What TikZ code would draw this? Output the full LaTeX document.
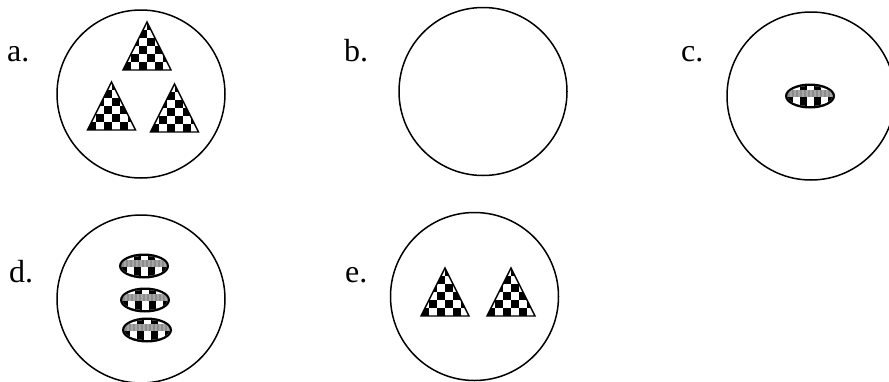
\documentclass[tikz,border=0pt]{standalone}
\usepackage{fontspec}
\setmainfont{Liberation Serif}
\begin{document}
\begin{tikzpicture}[x=1pt,y=1pt,
  ring/.style={circle, draw, line width=1.5pt, minimum size=168pt, inner sep=0pt},
  lab/.style={anchor=base west, inner sep=0pt, font=\fontsize{32}{36}\selectfont},
  ctri/.pic={
    \begin{scope}
      \clip (-24,0) -- (24,0) -- (0,48) -- cycle;
      \fill[white] (-24,0) rectangle (24,48);
      \foreach \i in {0,...,5}{\foreach \j in {0,...,5}{
        \pgfmathtruncatemacro\k{mod(\i+\j,2)}
        \ifnum\k=0 \fill (-24+8*\i,8*\j) rectangle ++(8,8);\fi}}
    \end{scope}
    \draw[line width=1.4pt] (-24,0) -- (24,0) -- (0,48) -- cycle;
  },
  cell/.pic={
    \fill (0,0) ellipse [x radius=25, y radius=12.5];
    \begin{scope}
      \clip (0,0) ellipse [x radius=22.5, y radius=10];
      \fill[white] (-25,-13) rectangle (25,13);
      \foreach \s in {-24.5,-10.5,3.5,17.5} \fill (\s,-13) rectangle ++(7,26);
      \fill[gray!70] (-25,-1) rectangle (25,6);
      \foreach \u in {-22,-18,...,22}{\fill[black!45] (\u,-1) rectangle ++(1.5,7);}
    \end{scope}
  }]
\useasboundingbox (0,0) rectangle (889,-381);
\clip (0,0) rectangle (889,-381);

% labels
\node[lab] (la) at (7,-61) {a.};
\node[lab] (lb) at (344,-61) {b.};
\node[lab] (lc) at (681,-61) {c.};
\node[lab] (ld) at (9,-282) {d.};
\node[lab] (le) at (345,-282) {e.};

% circles
\node[ring] (ca) at (141,-94) {};
\node[ring] (cb) at (483,-91.5) {};
\node[ring] (cc) at (811,-96) {};
\node[ring] (cd) at (141,-299) {};
\node[ring] (ce) at (474.5,-296.5) {};

% triangles
\pic (ta1) at (147,-70) {ctri};
\pic (ta2) at (111.5,-130) {ctri};
\pic (ta3) at (174.5,-132) {ctri};
\pic (te1) at (445,-316) {ctri};
\pic (te2) at (511,-316) {ctri};

% cells
\pic (ec) at (810,-96) {cell};
\pic (ed1) at (144,-266) {cell};
\pic (ed2) at (145,-300) {cell};
\pic (ed3) at (147,-330) {cell};
\end{tikzpicture}
\end{document}
